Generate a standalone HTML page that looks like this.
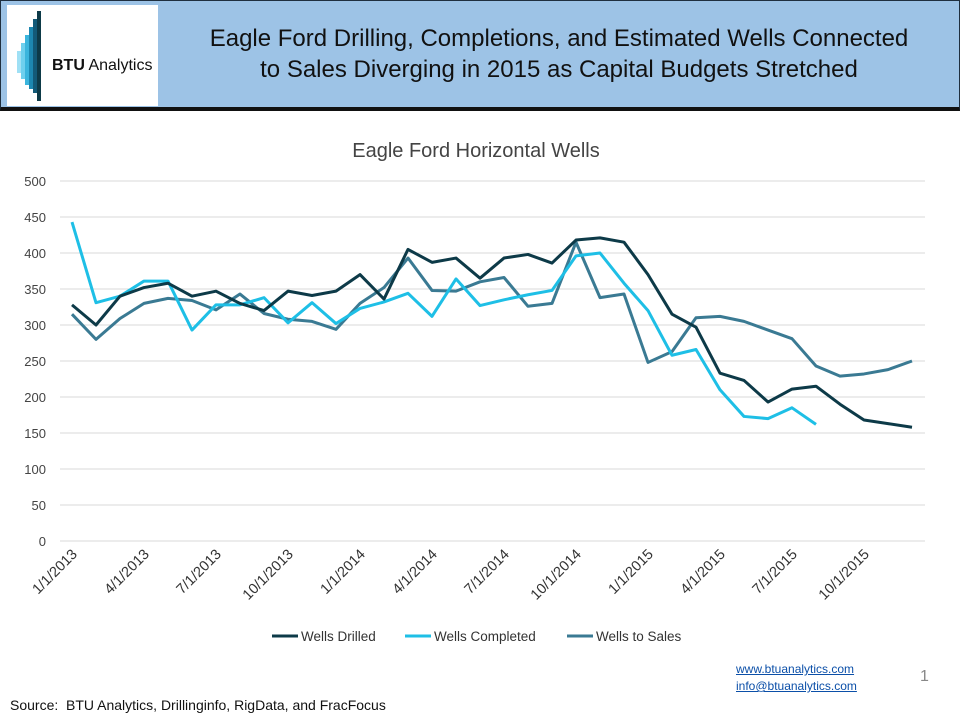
<!DOCTYPE html>
<html><head><meta charset="utf-8"><style>
body{margin:0;width:960px;height:720px;overflow:hidden;background:#fff;font-family:"Liberation Sans",Calibri,sans-serif;position:relative}
#hdr{position:absolute;left:0;top:0;width:958px;height:106px;background:#9dc3e6;border:1px solid #1f2f3f;border-bottom:4px solid #111}
#logo{position:absolute;left:6px;top:4px;width:151px;height:101px;background:#fff}
#title{position:absolute;left:160px;top:22px;width:796px;text-align:center;font-size:24px;line-height:31px;color:#111}
svg{position:absolute;left:0;top:0}
</style></head><body>
<div id="hdr">
<div id="logo">
<svg width="151" height="101">
<rect x="10" y="46" width="4" height="22" fill="#9fe0f5"/><rect x="14" y="38" width="4" height="36" fill="#6fd0ee"/><rect x="18" y="30" width="4" height="50" fill="#3bb5dd"/><rect x="22" y="22" width="4" height="62" fill="#1d87b0"/><rect x="26" y="14" width="4" height="74" fill="#135a78"/><rect x="30" y="6" width="4" height="90" fill="#0d3a48"/>
<text x="45" y="65" font-size="16" fill="#111" font-family="Liberation Sans,sans-serif"><tspan font-weight="bold">BTU</tspan> Analytics</text></svg></div>
<div id="title">Eagle Ford Drilling, Completions, and Estimated Wells Connected<br>to Sales Diverging in 2015 as Capital Budgets Stretched</div>
</div>
<svg id="chart" width="960" height="720" style="top:0"></svg>
<div style="position:absolute;left:736px;top:661px;font-size:12px;line-height:17px;color:#0b4fa8;text-decoration:underline">www.btuanalytics.com<br>info@btuanalytics.com</div>
<div style="position:absolute;left:920px;top:668px;font-size:16px;color:#888">1</div>
<div style="position:absolute;left:10px;top:697px;font-size:14px;color:#111">Source:&nbsp; BTU Analytics, Drillinginfo, RigData, and FracFocus</div>
<script>
const months=36;
const yTicks=[0,50,100,150,200,250,300,350,400,450,500];
const xLabels=["1/1/2013","4/1/2013","7/1/2013","10/1/2013","1/1/2014","4/1/2014","7/1/2014","10/1/2014","1/1/2015","4/1/2015","7/1/2015","10/1/2015"];
const drilled=[328,300,340,352,358,340,347,330,320,347,341,347,370,336,405,387,393,365,393,398,386,418,421,415,370,315,297,233,223,193,211,215,190,168,163,158];
const completed=[443,331,340,361,361,293,328,328,338,303,331,302,323,332,344,312,364,327,335,342,348,396,400,358,320,258,266,210,173,170,185,162];
const toSales=[315,280,309,330,337,334,321,343,316,308,305,294,330,352,393,348,347,360,366,326,330,415,338,343,248,263,310,312,305,293,281,243,229,232,238,250];
const NS="http://www.w3.org/2000/svg",svg=document.getElementById('chart');
const X=i=>72+i*(840/(months-1)), Y=v=>541-v*0.72;
function el(t,a){const e=document.createElementNS(NS,t);for(const k in a)e.setAttribute(k,a[k]);svg.appendChild(e);return e;}
let t=el('text',{x:476,y:157,'text-anchor':'middle','font-size':20,fill:'#444'});t.textContent='Eagle Ford Horizontal Wells';


yTicks.forEach(v=>{const g=el('line',{x1:60,x2:925,y1:Y(v),y2:Y(v),stroke:'#d9d9d9','stroke-width':1});


const l=el('text',{x:46,y:Y(v)+5,'text-anchor':'end','font-size':13,fill:'#444'});l.textContent=v;

});
xLabels.forEach((s,k)=>{const x=X(k*3)+6,y=555;const l=el('text',{x:x,y:y,'text-anchor':'end','font-size':14.5,fill:'#333',transform:`rotate(-45 ${x} ${y})`});l.textContent=s;

});
function line(d,c,name){const p=el('polyline',{points:d.map((v,i)=>X(i)+','+Y(v)).join(' '),fill:'none',stroke:c,'stroke-width':3,'stroke-linejoin':'round'});

}
line(toSales,'#3a7a93','series-wells-to-sales');
line(completed,'#1ebfe6','series-wells-completed');
line(drilled,'#0d3a48','series-wells-drilled');
[['Wells Drilled','#0d3a48',272],['Wells Completed','#1ebfe6',405],['Wells to Sales','#3a7a93',567]].forEach(([n,c,x])=>{
const ln=el('line',{x1:x,x2:x+26,y1:636,y2:636,stroke:c,'stroke-width':3});


const tx=el('text',{x:x+29,y:641,'font-size':13.5,fill:'#333'});tx.textContent=n;

});
</script>
</body></html>
